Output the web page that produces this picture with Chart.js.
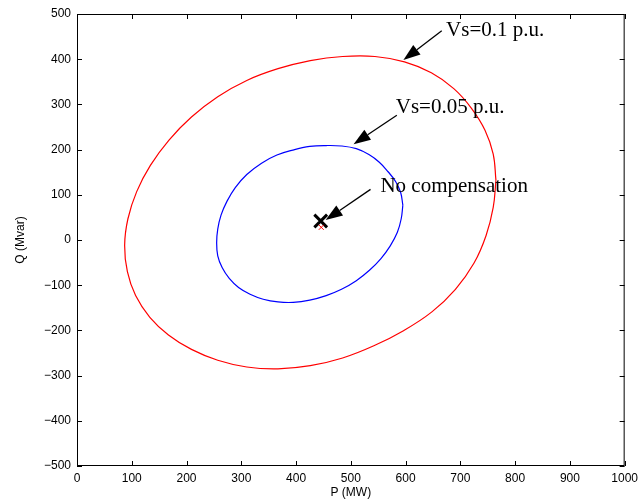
<!DOCTYPE html>
<html>
<head>
<meta charset="utf-8">
<script src="https://cdn.jsdelivr.net/npm/chart.js@4.4.1/dist/chart.umd.min.js"></script>
<style>
  html, body { margin: 0; padding: 0; background: #fff; }
  canvas { display: block; }
</style>
</head>
<body>
<canvas id="chart" width="643" height="501"></canvas>
<script>
// boundary curves (P in MW, Q in Mvar), closed loops
const redP = [765, 760, 745, 720, 688, 647, 598, 544, 485, 426, 367, 310, 257, 209, 168, 134, 109, 93, 87, 92, 107, 133, 167, 209, 257, 310, 367, 426, 485, 542, 597, 648, 691, 725, 747, 760, 765];
const redQ = [132, 190, 243, 292, 335, 370, 394, 406, 406, 397, 379, 353, 317, 272, 221, 165, 107, 47, -12, -70, -123, -171, -210, -242, -266, -281, -285, -278, -261, -234, -200, -159, -109, -51, 10, 72, 132];

const blueP = [595, 591, 582, 568, 552, 533, 510, 483, 455, 425, 394, 365, 337, 310, 289, 274, 263, 257, 255, 257, 265, 278, 295, 316, 340, 367, 395, 425, 455, 483, 510, 534, 555, 572, 585, 592, 595];
const blueQ = [77, 105, 129, 151, 172, 189, 202, 208, 209, 207, 199, 188, 170, 145, 116, 86, 55, 24, -6, -35, -61, -85, -105, -120, -131, -137, -138, -133, -123, -109, -90, -67, -41, -13, 17, 47, 77];

// operating point without compensation
const noCompP = [445];
const noCompQ = [42];
const smallMarkP = [446];
const smallMarkQ = [28];

// annotations (data units)
const noteText = ['Vs=0.1 p.u.', 'Vs=0.05 p.u.', 'No compensation'];
const noteP = [674, 582, 554];
const noteQ = [451, 280, 107];
const arrowFromP = [666, 584, 536];
const arrowFromQ = [463, 276, 112];
const arrowToP = [596, 505, 454];
const arrowToQ = [398, 212, 44];

const xTicks = [0, 1000, 100];   // min, max, step
const yTicks = [-500, 500, 100];

const toXY = (ps, qs) => ps.map((p, i) => ({ x: p, y: qs[i] }));

const minus = v => (v < 0 ? '\u2212' + Math.abs(v) : '' + v);

// box with inward ticks, matlab style, plus arrows + text
const frame = {
  id: 'frame',
  afterDatasetsDraw(chart) {
    const { ctx, chartArea: a, scales: { x, y } } = chart;
    ctx.save();
    ctx.strokeStyle = '#000';
    ctx.lineWidth = 1;
    ctx.strokeRect(a.left + 0.5, a.top + 0.5, a.right - a.left - 1, a.bottom - a.top - 1);
    ctx.beginPath();
    x.ticks.forEach(t => {
      const px = Math.round(x.getPixelForValue(t.value)) + 0.5;
      ctx.moveTo(px, a.bottom); ctx.lineTo(px, a.bottom - 5);
      ctx.moveTo(px, a.top); ctx.lineTo(px, a.top + 5);
    });
    y.ticks.forEach(t => {
      const py = Math.round(y.getPixelForValue(t.value)) + 0.5;
      ctx.moveTo(a.left, py); ctx.lineTo(a.left + 5, py);
      ctx.moveTo(a.right, py); ctx.lineTo(a.right - 5, py);
    });
    ctx.stroke();

    // arrows
    ctx.fillStyle = '#000';
    ctx.lineWidth = 1.3;
    for (let i = 0; i < noteText.length; i++) {
      const x0 = x.getPixelForValue(arrowFromP[i]), y0 = y.getPixelForValue(arrowFromQ[i]);
      const x1 = x.getPixelForValue(arrowToP[i]), y1 = y.getPixelForValue(arrowToQ[i]);
      const ang = Math.atan2(y1 - y0, x1 - x0);
      const len = 17, half = 6;
      const bx = x1 - len * Math.cos(ang), by = y1 - len * Math.sin(ang);
      ctx.beginPath();
      ctx.moveTo(x0, y0); ctx.lineTo(bx, by);
      ctx.stroke();
      ctx.beginPath();
      ctx.moveTo(x1, y1);
      ctx.lineTo(bx + half * Math.sin(ang), by - half * Math.cos(ang));
      ctx.lineTo(bx - half * Math.sin(ang), by + half * Math.cos(ang));
      ctx.closePath();
      ctx.fill();
    }

    ctx.font = '21px "Liberation Serif", "Times New Roman", serif';
    ctx.textAlign = 'left';
    ctx.textBaseline = 'alphabetic';
    noteText.forEach((s, i) => {
      ctx.fillText(s, x.getPixelForValue(noteP[i]), y.getPixelForValue(noteQ[i]));
    });
    ctx.restore();
  }
};

const tickFont = { family: '"Liberation Sans", Arial, Helvetica, sans-serif', size: 12 };

new Chart(document.getElementById('chart'), {
  type: 'line',
  data: {
    datasets: [
      {
        data: toXY(redP, redQ),
        borderColor: '#ff0000',
        borderWidth: 1.2,
        pointRadius: 0,
        tension: 0.4,
        fill: false
      },
      {
        data: toXY(blueP, blueQ),
        borderColor: '#0000ff',
        borderWidth: 1.2,
        pointRadius: 0,
        tension: 0.4,
        fill: false
      },
      {
        data: toXY(smallMarkP, smallMarkQ),
        showLine: false,
        pointStyle: 'crossRot',
        pointRadius: 3.5,
        borderColor: '#ff0000',
        borderWidth: 1
      },
      {
        data: toXY(noCompP, noCompQ),
        showLine: false,
        pointStyle: 'crossRot',
        pointRadius: 9,
        borderColor: '#000',
        borderWidth: 3
      }
    ]
  },
  options: {
    responsive: false,
    animation: false,
    devicePixelRatio: 1,
    layout: { padding: { left: 0, right: 16, top: 14, bottom: 0 } },
    plugins: { legend: { display: false }, tooltip: { enabled: false } },
    scales: {
      x: {
        type: 'linear',
        min: xTicks[0],
        max: xTicks[1],
        grid: { display: false, drawTicks: false, tickLength: 0 },
        border: { display: false },
        ticks: { stepSize: xTicks[2], color: '#000', font: tickFont, padding: 5, maxRotation: 0, callback: minus },
        title: { display: true, text: 'P (MW)', color: '#000', font: tickFont, padding: { top: 0, bottom: 1 } },
        afterFit: s => { s.height = 35; }
      },
      y: {
        type: 'linear',
        min: yTicks[0],
        max: yTicks[1],
        grid: { display: false, drawTicks: false, tickLength: 0 },
        border: { display: false },
        ticks: { stepSize: yTicks[2], color: '#000', font: tickFont, padding: 6, callback: minus },
        title: { display: true, text: 'Q (Mvar)', color: '#000', font: tickFont, padding: { top: 13, bottom: 0 } },
        afterFit: s => { s.width = 77; }
      }
    }
  },
  plugins: [frame]
});
</script>
</body>
</html>
